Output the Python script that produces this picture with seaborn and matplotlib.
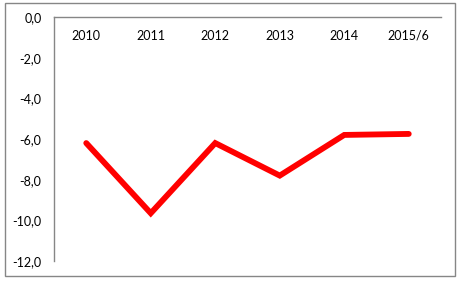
import matplotlib
matplotlib.use("Agg")
import matplotlib.pyplot as plt
import matplotlib.patches as mpatches
import seaborn as sns
import pandas as pd

categories = ["2010", "2011", "2012", "2013", "2014", "2015/6"]
values = [-6.2, -9.65, -6.2, -7.8, -5.8, -5.75]
yticks = [0, -2, -4, -6, -8, -10, -12]
ytick_labels = ["0,0", "-2,0", "-4,0", "-6,0", "-8,0", "-10,0", "-12,0"]

sns.set_style("white")
plt.rcParams['font.family'] = ['Lato', 'DejaVu Sans']

W, H = 469, 287
fig = plt.figure(figsize=(W / 100, H / 100), dpi=100)
ax = fig.add_axes([54 / W, 1 - 261 / H, (441 - 54) / W, (261 - 17) / H])

df = pd.DataFrame({"cat": categories, "val": values})
sns.lineplot(data=df, x="cat", y="val", ax=ax, color="#FF0000", linewidth=4.2,
             solid_capstyle="round", solid_joinstyle="miter", sort=False)

ax.set_xlim(-0.5, len(categories) - 0.5)
ax.set_ylim(-12, 0)
ax.set_yticks(yticks)
ax.set_yticklabels(ytick_labels)
ax.set_xlabel("")
ax.set_ylabel("")

for s in ["bottom", "right"]:
    ax.spines[s].set_visible(False)
for s in ["left", "top"]:
    ax.spines[s].set_visible(True)
    ax.spines[s].set_color("#868686")
    ax.spines[s].set_linewidth(1.0)

ax.xaxis.tick_top()
ax.tick_params(axis="x", top=False, bottom=False, labeltop=True, labelbottom=False,
               length=0, pad=-9, labelsize=9, colors="black")
for lbl in ax.get_xticklabels():
    lbl.set_va("top")
ax.tick_params(axis="y", left=False, length=0, pad=9, labelsize=9, colors="black")

border = mpatches.Rectangle((5 / W, 1 - 276 / H), 450 / W, 273 / H,
                            transform=fig.transFigure, fill=False,
                            edgecolor="#868686", linewidth=1.0)
fig.patches.append(border)

fig.savefig("out.png", dpi=100)
